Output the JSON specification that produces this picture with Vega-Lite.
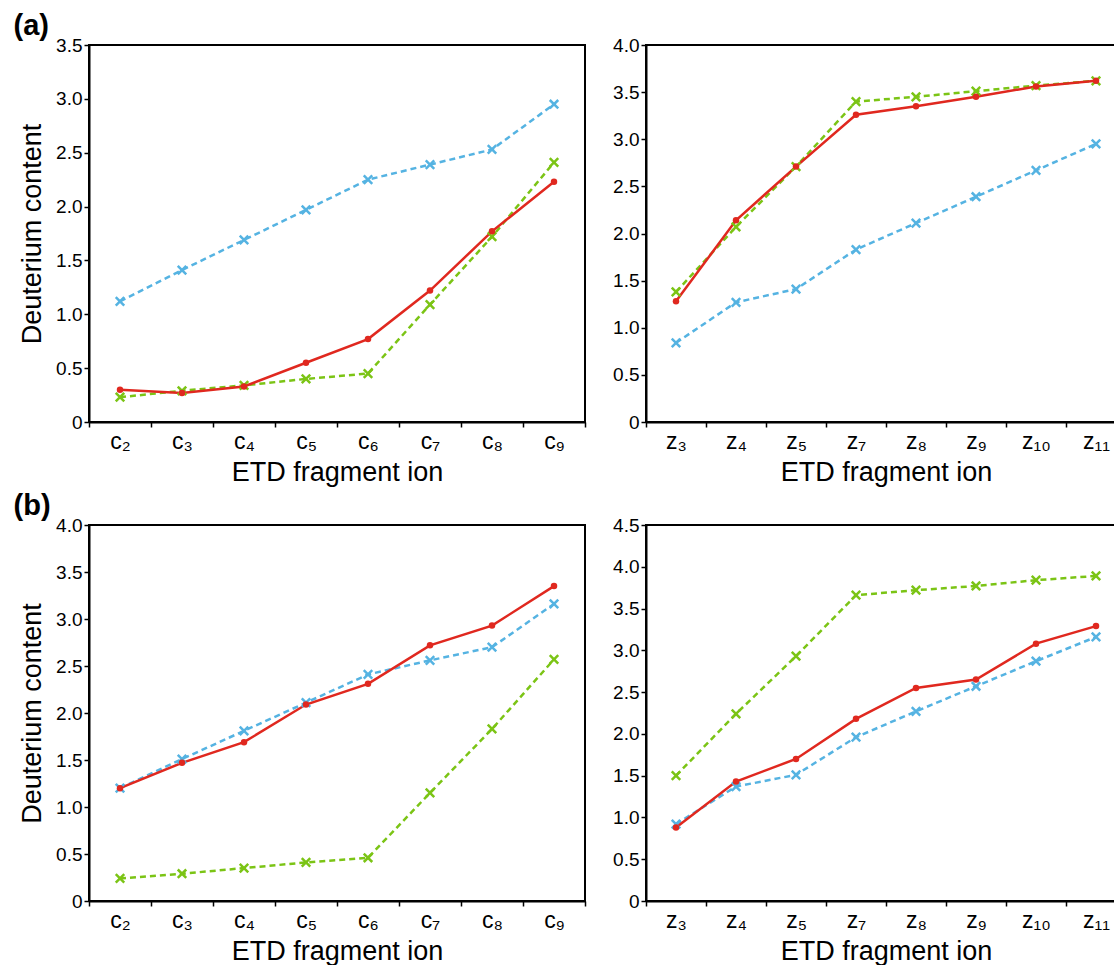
{
  "$schema": "https://vega.github.io/schema/vega-lite/v6.json",
  "padding": {"left": 13, "top": 12, "right": 0, "bottom": 0},
  "background": "white",
  "datasets": {
    "d": [
      {"panel": "a-c", "ion": "c₂", "S1": 0.30, "S2": 1.12, "S3": 0.23},
      {"panel": "a-c", "ion": "c₃", "S1": 0.27, "S2": 1.41, "S3": 0.29},
      {"panel": "a-c", "ion": "c₄", "S1": 0.33, "S2": 1.69, "S3": 0.34},
      {"panel": "a-c", "ion": "c₅", "S1": 0.55, "S2": 1.97, "S3": 0.40},
      {"panel": "a-c", "ion": "c₆", "S1": 0.77, "S2": 2.25, "S3": 0.45},
      {"panel": "a-c", "ion": "c₇", "S1": 1.22, "S2": 2.39, "S3": 1.09},
      {"panel": "a-c", "ion": "c₈", "S1": 1.77, "S2": 2.53, "S3": 1.72},
      {"panel": "a-c", "ion": "c₉", "S1": 2.23, "S2": 2.95, "S3": 2.41},
      {"panel": "a-z", "ion": "z₃", "S1": 1.28, "S2": 0.84, "S3": 1.38},
      {"panel": "a-z", "ion": "z₄", "S1": 2.14, "S2": 1.27, "S3": 2.07},
      {"panel": "a-z", "ion": "z₅", "S1": 2.71, "S2": 1.41, "S3": 2.71},
      {"panel": "a-z", "ion": "z₇", "S1": 3.26, "S2": 1.83, "S3": 3.40},
      {"panel": "a-z", "ion": "z₈", "S1": 3.35, "S2": 2.11, "S3": 3.45},
      {"panel": "a-z", "ion": "z₉", "S1": 3.45, "S2": 2.39, "S3": 3.51},
      {"panel": "a-z", "ion": "z₁₀", "S1": 3.56, "S2": 2.67, "S3": 3.57},
      {"panel": "a-z", "ion": "z₁₁", "S1": 3.62, "S2": 2.95, "S3": 3.62},
      {"panel": "b-c", "ion": "c₂", "S1": 1.20, "S2": 1.20, "S3": 0.24},
      {"panel": "b-c", "ion": "c₃", "S1": 1.47, "S2": 1.51, "S3": 0.29},
      {"panel": "b-c", "ion": "c₄", "S1": 1.69, "S2": 1.81, "S3": 0.35},
      {"panel": "b-c", "ion": "c₅", "S1": 2.09, "S2": 2.11, "S3": 0.41},
      {"panel": "b-c", "ion": "c₆", "S1": 2.31, "S2": 2.41, "S3": 0.46},
      {"panel": "b-c", "ion": "c₇", "S1": 2.72, "S2": 2.56, "S3": 1.15},
      {"panel": "b-c", "ion": "c₈", "S1": 2.93, "S2": 2.70, "S3": 1.83},
      {"panel": "b-c", "ion": "c₉", "S1": 3.35, "S2": 3.16, "S3": 2.57},
      {"panel": "b-z", "ion": "z₃", "S1": 0.88, "S2": 0.92, "S3": 1.50},
      {"panel": "b-z", "ion": "z₄", "S1": 1.43, "S2": 1.37, "S3": 2.24},
      {"panel": "b-z", "ion": "z₅", "S1": 1.70, "S2": 1.51, "S3": 2.93},
      {"panel": "b-z", "ion": "z₇", "S1": 2.18, "S2": 1.96, "S3": 3.66},
      {"panel": "b-z", "ion": "z₈", "S1": 2.55, "S2": 2.27, "S3": 3.72},
      {"panel": "b-z", "ion": "z₉", "S1": 2.65, "S2": 2.57, "S3": 3.77},
      {"panel": "b-z", "ion": "z₁₀", "S1": 3.08, "S2": 2.87, "S3": 3.84},
      {"panel": "b-z", "ion": "z₁₁", "S1": 3.29, "S2": 3.16, "S3": 3.89}
    ]
  },
  "vconcat": [
    {
      "title": {"text": "(a)", "dx": -4, "offset": -6},
      "spacing": 24,
      "hconcat": [
        {
          "width": 496, "height": 377,
          "data": {"name": "d"},
          "transform": [{"filter": "datum.panel == 'a-c'"}, {"fold": ["S1", "S2", "S3"], "as": ["series", "value"]}],
          "encoding": {
            "x": {"field": "ion", "type": "ordinal", "sort": null, "scale": {"type": "band", "paddingInner": 0, "paddingOuter": 0}, "axis": {"tickBand": "extent", "labelAngle": 0, "labelFontSize": 23, "labelPadding": 3, "title": "ETD fragment ion", "titlePadding": 6}},
            "y": {"field": "value", "type": "quantitative", "scale": {"domain": [0, 3.5]}, "axis": {"values": [0, 0.5, 1, 1.5, 2, 2.5, 3, 3.5], "labelExpr": "datum.value == 0 ? '0' : format(datum.value, '.1f')", "title": "Deuterium content", "titlePadding": 9}}
          },
          "layer": [
            {"transform": [{"filter": "datum.series == 'S2'"}], "mark": {"type": "line", "color": "#55b3e2", "strokeWidth": 2.5, "strokeDash": [6, 4]}},
            {"transform": [{"filter": "datum.series == 'S3'"}], "mark": {"type": "line", "color": "#7bc415", "strokeWidth": 2.5, "strokeDash": [6, 4]}},
            {"transform": [{"filter": "datum.series == 'S1'"}], "mark": {"type": "line", "color": "#e0281f", "strokeWidth": 2.5}},
            {"transform": [{"filter": "datum.series == 'S2'"}], "mark": {"type": "point", "shape": "M-1,-1L1,1M-1,1L1,-1", "size": 72, "filled": false, "color": "#55b3e2", "strokeWidth": 2.5, "opacity": 1}},
            {"transform": [{"filter": "datum.series == 'S3'"}], "mark": {"type": "point", "shape": "M-1,-1L1,1M-1,1L1,-1", "size": 72, "filled": false, "color": "#7bc415", "strokeWidth": 2.5, "opacity": 1}},
            {"transform": [{"filter": "datum.series == 'S1'"}], "mark": {"type": "point", "shape": "circle", "size": 42, "filled": true, "color": "#e0281f", "opacity": 1}}
          ]
        },
        {
          "width": 480, "height": 377,
          "data": {"name": "d"},
          "transform": [{"filter": "datum.panel == 'a-z'"}, {"fold": ["S1", "S2", "S3"], "as": ["series", "value"]}],
          "encoding": {
            "x": {"field": "ion", "type": "ordinal", "sort": null, "scale": {"type": "band", "paddingInner": 0, "paddingOuter": 0}, "axis": {"tickBand": "extent", "labelAngle": 0, "labelFontSize": 23, "labelPadding": 3, "title": "ETD fragment ion", "titlePadding": 6}},
            "y": {"field": "value", "type": "quantitative", "scale": {"domain": [0, 4]}, "axis": {"values": [0, 0.5, 1, 1.5, 2, 2.5, 3, 3.5, 4], "labelExpr": "datum.value == 0 ? '0' : format(datum.value, '.1f')", "title": null}}
          },
          "layer": [
            {"transform": [{"filter": "datum.series == 'S2'"}], "mark": {"type": "line", "color": "#55b3e2", "strokeWidth": 2.5, "strokeDash": [6, 4]}},
            {"transform": [{"filter": "datum.series == 'S3'"}], "mark": {"type": "line", "color": "#7bc415", "strokeWidth": 2.5, "strokeDash": [6, 4]}},
            {"transform": [{"filter": "datum.series == 'S1'"}], "mark": {"type": "line", "color": "#e0281f", "strokeWidth": 2.5}},
            {"transform": [{"filter": "datum.series == 'S2'"}], "mark": {"type": "point", "shape": "M-1,-1L1,1M-1,1L1,-1", "size": 72, "filled": false, "color": "#55b3e2", "strokeWidth": 2.5, "opacity": 1}},
            {"transform": [{"filter": "datum.series == 'S3'"}], "mark": {"type": "point", "shape": "M-1,-1L1,1M-1,1L1,-1", "size": 72, "filled": false, "color": "#7bc415", "strokeWidth": 2.5, "opacity": 1}},
            {"transform": [{"filter": "datum.series == 'S1'"}], "mark": {"type": "point", "shape": "circle", "size": 42, "filled": true, "color": "#e0281f", "opacity": 1}}
          ]
        }
      ]
    },
    {
      "title": {"text": "(b)", "dx": -4, "offset": -6},
      "spacing": 24,
      "hconcat": [
        {
          "width": 496, "height": 376,
          "data": {"name": "d"},
          "transform": [{"filter": "datum.panel == 'b-c'"}, {"fold": ["S1", "S2", "S3"], "as": ["series", "value"]}],
          "encoding": {
            "x": {"field": "ion", "type": "ordinal", "sort": null, "scale": {"type": "band", "paddingInner": 0, "paddingOuter": 0}, "axis": {"tickBand": "extent", "labelAngle": 0, "labelFontSize": 23, "labelPadding": 3, "title": "ETD fragment ion", "titlePadding": 6}},
            "y": {"field": "value", "type": "quantitative", "scale": {"domain": [0, 4]}, "axis": {"values": [0, 0.5, 1, 1.5, 2, 2.5, 3, 3.5, 4], "labelExpr": "datum.value == 0 ? '0' : format(datum.value, '.1f')", "title": "Deuterium content", "titlePadding": 9}}
          },
          "layer": [
            {"transform": [{"filter": "datum.series == 'S2'"}], "mark": {"type": "line", "color": "#55b3e2", "strokeWidth": 2.5, "strokeDash": [6, 4]}},
            {"transform": [{"filter": "datum.series == 'S3'"}], "mark": {"type": "line", "color": "#7bc415", "strokeWidth": 2.5, "strokeDash": [6, 4]}},
            {"transform": [{"filter": "datum.series == 'S1'"}], "mark": {"type": "line", "color": "#e0281f", "strokeWidth": 2.5}},
            {"transform": [{"filter": "datum.series == 'S2'"}], "mark": {"type": "point", "shape": "M-1,-1L1,1M-1,1L1,-1", "size": 72, "filled": false, "color": "#55b3e2", "strokeWidth": 2.5, "opacity": 1}},
            {"transform": [{"filter": "datum.series == 'S3'"}], "mark": {"type": "point", "shape": "M-1,-1L1,1M-1,1L1,-1", "size": 72, "filled": false, "color": "#7bc415", "strokeWidth": 2.5, "opacity": 1}},
            {"transform": [{"filter": "datum.series == 'S1'"}], "mark": {"type": "point", "shape": "circle", "size": 42, "filled": true, "color": "#e0281f", "opacity": 1}}
          ]
        },
        {
          "width": 480, "height": 376,
          "data": {"name": "d"},
          "transform": [{"filter": "datum.panel == 'b-z'"}, {"fold": ["S1", "S2", "S3"], "as": ["series", "value"]}],
          "encoding": {
            "x": {"field": "ion", "type": "ordinal", "sort": null, "scale": {"type": "band", "paddingInner": 0, "paddingOuter": 0}, "axis": {"tickBand": "extent", "labelAngle": 0, "labelFontSize": 23, "labelPadding": 3, "title": "ETD fragment ion", "titlePadding": 6}},
            "y": {"field": "value", "type": "quantitative", "scale": {"domain": [0, 4.5]}, "axis": {"values": [0, 0.5, 1, 1.5, 2, 2.5, 3, 3.5, 4, 4.5], "labelExpr": "datum.value == 0 ? '0' : format(datum.value, '.1f')", "title": null}}
          },
          "layer": [
            {"transform": [{"filter": "datum.series == 'S2'"}], "mark": {"type": "line", "color": "#55b3e2", "strokeWidth": 2.5, "strokeDash": [6, 4]}},
            {"transform": [{"filter": "datum.series == 'S3'"}], "mark": {"type": "line", "color": "#7bc415", "strokeWidth": 2.5, "strokeDash": [6, 4]}},
            {"transform": [{"filter": "datum.series == 'S1'"}], "mark": {"type": "line", "color": "#e0281f", "strokeWidth": 2.5}},
            {"transform": [{"filter": "datum.series == 'S2'"}], "mark": {"type": "point", "shape": "M-1,-1L1,1M-1,1L1,-1", "size": 72, "filled": false, "color": "#55b3e2", "strokeWidth": 2.5, "opacity": 1}},
            {"transform": [{"filter": "datum.series == 'S3'"}], "mark": {"type": "point", "shape": "M-1,-1L1,1M-1,1L1,-1", "size": 72, "filled": false, "color": "#7bc415", "strokeWidth": 2.5, "opacity": 1}},
            {"transform": [{"filter": "datum.series == 'S1'"}], "mark": {"type": "point", "shape": "circle", "size": 42, "filled": true, "color": "#e0281f", "opacity": 1}}
          ]
        }
      ]
    }
  ],
  "spacing": 6,
  "config": {
    "font": "Liberation Sans",
    "view": {"stroke": "black", "strokeWidth": 2},
    "axis": {"domainColor": "black", "domainWidth": 2, "tickColor": "black", "tickWidth": 1.5, "tickSize": 5, "labelColor": "black", "titleColor": "black", "grid": false, "labelFontSize": 19, "titleFontSize": 27, "titleFontWeight": "normal"},
    "title": {"fontSize": 29, "fontWeight": "bold", "anchor": "start", "color": "black"}
  }
}
